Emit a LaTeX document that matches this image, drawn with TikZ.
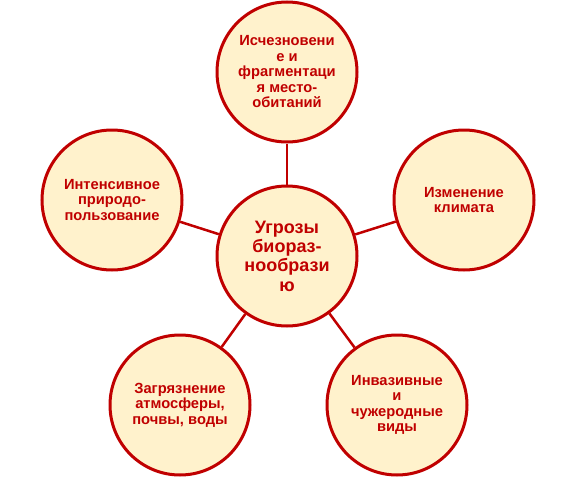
\documentclass[tikz,border=0pt]{standalone}
\usepackage{fontspec}
\setmainfont{Liberation Sans}
\definecolor{dred}{HTML}{C00000}
\definecolor{cream}{HTML}{FFF2CC}
\begin{document}
\begin{tikzpicture}[x=1pt,y=-1pt,
  bubble/.style={circle,draw=dred,fill=cream,line width=3pt,minimum size=140pt,inner sep=0pt,
    align=center,text=dred,font=\bfseries\fontsize{14.7}{15.5}\selectfont},
  hub/.style={bubble,font=\bfseries\fontsize{18}{19.4}\selectfont},
  link/.style={draw=dred,line width=2.5pt}]
\useasboundingbox (0,0) rectangle (576,479);
\node[hub] (c) at (287,256) {Угрозы\\биораз-\\нообрази\\ю};
\node[bubble] (t) at (287,72) {Исчезновени\\е и\\фрагментаци\\я место-\\обитаний};
\node[bubble] (l) at (112,200) {Интенсивное\\природо-\\пользование};
\node[bubble] (r) at (464,200) {Изменение\\климата};
\node[bubble] (bl) at (180,405) {Загрязнение\\атмосферы,\\почвы, воды};
\node[bubble] (br) at (397,405) {Инвазивные\\и\\чужеродные\\виды};
\foreach \n in {t,l,r,bl,br} \draw[link] (c) -- (\n);
\end{tikzpicture}
\end{document}
